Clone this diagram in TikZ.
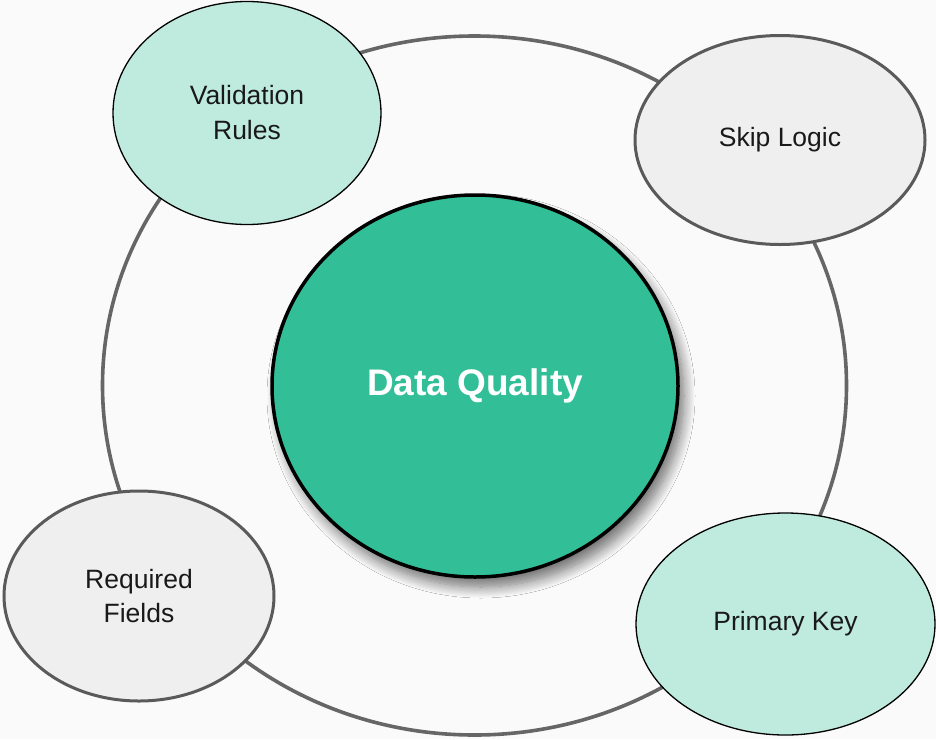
\documentclass[tikz,border=0pt]{standalone}
\usepackage{fontspec}
\setmainfont{Liberation Sans}
\usetikzlibrary{shapes.geometric,shadows.blur}
\definecolor{bgc}{HTML}{F9FAF9}
\definecolor{ringc}{HTML}{666666}
\definecolor{mint}{HTML}{BFEBDE}
\definecolor{lgray}{HTML}{EFEFEF}
\definecolor{graybd}{HTML}{5A5A5A}
\definecolor{green}{HTML}{32BF98}
\tikzset{
  ringline/.style={draw=ringc, line width=3.6pt},
  mintnode/.style={ellipse, draw=black, line width=1.3pt, fill=mint, inner sep=0pt, align=center,
    font=\fontsize{26.5}{35}\selectfont, text=black!90},
  graynode/.style={ellipse, draw=graybd, line width=3pt, fill=lgray, inner sep=0pt, align=center,
    font=\fontsize{26.5}{34}\selectfont, text=black!90},
  corenode/.style={ellipse, draw=black, line width=3.5pt, fill=green, inner sep=0pt,
    font=\bfseries\fontsize{37}{44}\selectfont, text=white,
    blur shadow={shadow xshift=6pt, shadow yshift=-10pt, shadow blur steps=14, shadow blur radius=11pt, shadow opacity=55}}
}
\begin{document}
\begin{tikzpicture}[x=1pt,y=-1pt]
\fill[bgc] (0,0) rectangle (936,739);
\useasboundingbox (0,0) rectangle (936,739);
\coordinate (ringc) at (474.5,385.5);
\draw[ringline] (ringc) ellipse [x radius=372, y radius=349.5];
\node[corenode, minimum width=406pt, minimum height=382pt] (core) at (475,386) {Data Quality};
\node[mintnode, minimum width=268pt, minimum height=223pt] (vr) at (247,113) {Validation\\Rules};
\node[graynode, minimum width=290pt, minimum height=209pt] (sl) at (780,140) {Skip Logic};
\node[graynode, minimum width=270pt, minimum height=210pt] (rf) at (139,596) {Required\\Fields};
\node[mintnode, minimum width=299pt, minimum height=222pt] (pk) at (785.5,624) {Primary Key};
\end{tikzpicture}
\end{document}
